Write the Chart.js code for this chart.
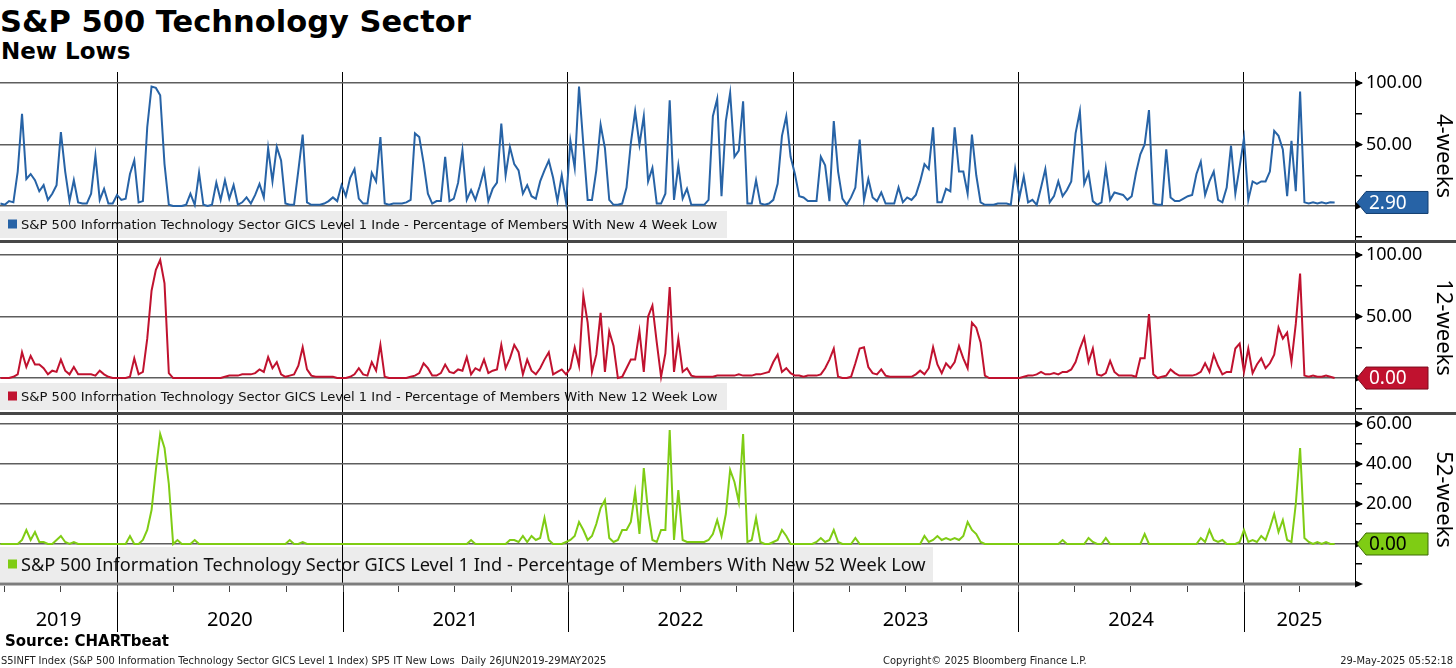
<!DOCTYPE html>
<html>
<head>
<meta charset="utf-8">
<script src="https://cdn.jsdelivr.net/npm/chart.js@4.4.1/dist/chart.umd.min.js"></script>
<style>
  html, body { margin: 0; padding: 0; background: #fff; }
  body { width: 1456px; height: 668px; position: relative; overflow: hidden; font-family: "DejaVu Sans", sans-serif; color: #000; }
  .abs { position: absolute; white-space: nowrap; }
  #title { left: 0; top: 7px; font-size: 30.5px; line-height: 30px; font-weight: bold; }
  #subtitle { left: 1px; top: 40px; font-size: 23px; line-height: 23px; font-weight: bold; }
  .sep { left: 0; width: 1456px; height: 3px; background: #474747; }
  #source { left: 5px; top: 634px; font-size: 15px; line-height: 15px; font-weight: bold; }
  .foot { top: 655px; font-family: "Liberation Sans Narrow", "DejaVu Sans Condensed", sans-serif; font-size: 11px; line-height: 11px; color: #222; }
  canvas { position: absolute; left: 0; }
</style>
</head>
<body>
<div id="title" class="abs">S&amp;P 500 Technology Sector</div>
<div id="subtitle" class="abs">New Lows</div>

<canvas id="chart4w" width="1456" height="168" style="top:72px"></canvas>
<div class="abs sep" style="top:240px"></div>
<canvas id="chart12w" width="1456" height="169" style="top:243px"></canvas>
<div class="abs sep" style="top:412px"></div>
<canvas id="chart52w" width="1456" height="253" style="top:415px"></canvas>

<div id="source" class="abs">Source: CHARTbeat</div>
<div class="abs foot" style="left:1px">S5INFT Index (S&amp;P 500 Information Technology Sector GICS Level 1 Index) SP5 IT New Lows&nbsp; Daily 26JUN2019-29MAY2025</div>
<div class="abs foot" style="left:883px">Copyright© 2025 Bloomberg Finance L.P.</div>
<div class="abs foot" style="right:3px">29-May-2025 05:52:18</div>

<script>
// weekly readings, first one on 26 Jun 2019
const startDay = Date.UTC(2019, 5, 26);
const stepDays = 7;

const years = [2019, 2020, 2021, 2022, 2023, 2024, 2025];

// % of members with new 4 week low
const newLow4w = [
  2, 1, 4, 3, 28, 75, 22, 26, 21, 12, 17, 5, 10, 17, 60, 28, 4, 21, 3, 2,
  2, 10, 41, 5, 14, 2, 2, 9, 5, 6, 26, 37, 3, 4, 64, 97, 96, 90, 34, 1,
  0, 0, 0, 1, 10, 1, 27, 1, 0, 1, 19, 5, 21, 6, 17, 1, 3, 7, 2, 9,
  18, 7, 47, 20, 48, 37, 2, 1, 1, 29, 58, 3, 1, 1, 1, 2, 4, 7, 4, 17,
  8, 23, 30, 6, 2, 2, 27, 20, 56, 2, 1, 2, 2, 2, 3, 5, 59, 56, 35, 10,
  2, 4, 4, 40, 4, 6, 19, 45, 5, 13, 5, 16, 29, 4, 14, 19, 67, 25, 48, 34,
  29, 10, 17, 8, 6, 20, 29, 37, 23, 4, 25, 3, 53, 31, 97, 50, 5, 5, 29, 66,
  47, 5, 1, 1, 2, 15, 51, 77, 50, 73, 20, 31, 2, 2, 10, 86, 5, 33, 6, 14,
  1, 1, 1, 1, 5, 73, 87, 8, 69, 92, 40, 45, 85, 2, 2, 21, 2, 1, 2, 5,
  18, 57, 73, 40, 26, 8, 7, 4, 4, 4, 40, 33, 4, 69, 28, 6, 1, 7, 15, 54,
  5, 22, 7, 4, 11, 2, 2, 2, 15, 3, 7, 5, 9, 20, 34, 30, 64, 3, 3, 14,
  12, 64, 28, 28, 10, 58, 25, 3, 1, 1, 1, 2, 2, 2, 1, 30, 7, 24, 3, 5,
  1, 15, 30, 3, 8, 20, 8, 13, 20, 59, 77, 18, 27, 4, 1, 3, 31, 5, 11, 10,
  9, 5, 8, 27, 42, 50, 78, 2, 1, 1, 46, 7, 4, 4, 6, 8, 9, 26, 36, 9,
  20, 28, 5, 3, 15, 49, 10, 32, 55, 5, 20, 18, 20, 20, 28, 61, 57, 46, 8, 53,
  12, 93, 3, 2, 3, 2, 3, 2, 3, 2.9
];

// % of members with new 12 week low
const newLow12w = [
  0, 0, 0, 1, 3, 21, 9, 18, 11, 11, 8, 3, 6, 5, 15, 6, 3, 9, 3, 3,
  3, 3, 2, 6, 3, 1, 0, 0, 0, 0, 1, 16, 3, 5, 32, 71, 88, 96, 77, 4,
  0, 0, 0, 0, 0, 0, 0, 0, 0, 0, 0, 0, 1, 2, 2, 2, 3, 3, 3, 4,
  7, 5, 17, 8, 13, 3, 1, 2, 3, 10, 25, 7, 2, 1, 1, 1, 1, 1, 0, 0,
  0, 1, 3, 8, 3, 2, 13, 6, 27, 1, 0, 0, 0, 0, 0, 1, 2, 4, 12, 8,
  2, 2, 4, 11, 5, 4, 7, 6, 17, 3, 8, 6, 15, 4, 6, 7, 27, 8, 16, 27,
  21, 3, 15, 6, 3, 8, 15, 21, 3, 5, 7, 3, 8, 25, 10, 67, 45, 5, 19, 53,
  5, 38, 26, 0, 1, 8, 15, 15, 38, 5, 50, 59, 29, 1, 20, 74, 5, 32, 5, 8,
  2, 1, 1, 1, 1, 1, 2, 2, 2, 2, 2, 3, 2, 2, 2, 3, 3, 4, 5, 13,
  19, 5, 8, 4, 2, 2, 1, 2, 2, 2, 3, 8, 15, 24, 1, 0, 0, 1, 12, 24,
  25, 9, 4, 3, 7, 2, 1, 1, 1, 1, 1, 1, 3, 6, 3, 8, 25, 11, 4, 12,
  8, 13, 26, 16, 8, 45, 41, 29, 2, 0, 0, 0, 0, 0, 0, 0, 0, 1, 2, 2,
  3, 5, 3, 3, 4, 3, 5, 5, 7, 13, 24, 33, 13, 24, 3, 2, 4, 14, 5, 2,
  2, 2, 2, 1, 16, 16, 52, 3, 0, 1, 2, 7, 4, 2, 2, 2, 2, 3, 5, 12,
  5, 19, 10, 3, 5, 5, 24, 28, 5, 24, 4, 11, 16, 8, 12, 19, 41, 32, 37, 13,
  44, 85, 2, 1, 2, 1, 1, 2, 1, 0
];

// % of members with new 52 week low
const newLow52w = [
  0, 0, 0, 0, 0, 2, 7, 2, 6, 1, 1, 0, 0, 2, 4, 1, 0, 1, 0, 0,
  0, 0, 0, 0, 0, 0, 0, 0, 0, 0, 4, 0, 0, 2, 7, 17, 37, 55, 48, 30,
  0, 2, 0, 0, 0, 2, 0, 0, 0, 0, 0, 0, 0, 0, 0, 0, 0, 0, 0, 0,
  0, 0, 0, 0, 0, 0, 0, 2, 0, 0, 1, 0, 0, 0, 0, 0, 0, 0, 0, 0,
  0, 0, 0, 0, 0, 0, 0, 0, 0, 0, 0, 0, 0, 0, 0, 0, 0, 0, 0, 0,
  0, 0, 0, 0, 0, 0, 0, 0, 0, 2, 0, 0, 0, 0, 0, 0, 0, 0, 2, 2,
  1, 4, 1, 4, 2, 3, 13, 2, 0, 0, 0, 1, 2, 4, 11, 7, 2, 4, 10, 18,
  22, 3, 1, 2, 7, 7, 11, 26, 5, 38, 16, 2, 1, 7, 7, 57, 2, 27, 2, 1,
  1, 1, 1, 1, 2, 5, 12, 4, 15, 37, 31, 21, 55, 1, 2, 13, 1, 0, 0, 1,
  2, 7, 4, 0, 0, 0, 0, 0, 0, 1, 3, 1, 2, 7, 1, 0, 0, 0, 3, 0,
  0, 0, 0, 0, 0, 0, 0, 0, 0, 0, 0, 0, 0, 0, 4, 1, 2, 4, 2, 3,
  2, 3, 2, 4, 11, 7, 5, 1, 0, 0, 0, 0, 0, 0, 0, 0, 0, 0, 0, 0,
  0, 0, 0, 0, 0, 0, 2, 0, 0, 0, 0, 0, 3, 1, 0, 0, 3, 0, 0, 0,
  0, 0, 0, 0, 0, 5, 0, 0, 0, 0, 0, 0, 0, 0, 0, 0, 0, 0, 3, 1,
  7, 2, 1, 2, 0, 0, 0, 1, 7, 1, 2, 1, 4, 2, 8, 15, 6, 12, 2, 1,
  20, 48, 3, 1, 0, 1, 0, 1, 0, 0
];

const ticks100 = [-25, 0, 25, 50, 75, 100];
const labels100 = [0, 50, 100];
const ticks60 = [-10, 0, 10, 20, 30, 40, 50, 60];
const labels60 = [0, 20, 40, 60];

const dayOf = (y, m) => (Date.UTC(y, m, 1) - startDay) / 864e5;
const yearStarts = years.slice(1).map(y => dayOf(y, 0));
const quarterStarts = [];
years.forEach(y => [0, 3, 6, 9].forEach(m => {
  const d = dayOf(y, m);
  if (d > 0 && d < 2190) quarterStarts.push(d);
}));
const xMin = -0.7;
const xMax = 2196;

function drawTag(ctx, x0, y, text, fill, edge, color) {
  ctx.beginPath();
  ctx.moveTo(x0, y);
  ctx.lineTo(x0 + 9, y - 11);
  ctx.lineTo(x0 + 71, y - 11);
  ctx.lineTo(x0 + 71, y + 11);
  ctx.lineTo(x0 + 9, y + 11);
  ctx.closePath();
  ctx.fillStyle = fill;
  ctx.fill();
  ctx.strokeStyle = edge;
  ctx.lineWidth = 1;
  ctx.stroke();
  ctx.fillStyle = color;
  ctx.font = '19px "Noto Sans"';
  ctx.textAlign = 'left';
  ctx.textBaseline = 'middle';
  ctx.fillText(text, x0 + 12, y + 1);
}

const decor = {
  id: 'decor',
  beforeDraw(chart, args, o) {
    const ctx = chart.ctx;
    const a = chart.chartArea;
    ctx.save();
    ctx.fillStyle = '#ececec';
    ctx.fillRect(0, a.bottom - o.boxH - o.boxGap, o.boxW, o.boxH);
    const cy = a.bottom - o.boxGap - o.boxH / 2;
    ctx.fillStyle = o.color;
    ctx.fillRect(8, cy - 5, 9, 9);
    ctx.fillStyle = '#111';
    ctx.font = o.legendFont;
    ctx.textBaseline = 'middle';
    ctx.fillText(o.legend, 21, cy + 1);
    ctx.restore();
  },
  afterDraw(chart, args, o) {
    const ctx = chart.ctx;
    const a = chart.chartArea;
    const ys = chart.scales.y;
    const xs = chart.scales.x;
    ctx.save();
    // arrow heads on labelled ticks
    ctx.fillStyle = '#000';
    o.labels.forEach(v => {
      const y = ys.getPixelForValue(v);
      ctx.beginPath();
      ctx.moveTo(a.right + 1, y - 3.5);
      ctx.lineTo(a.right + 8, y);
      ctx.lineTo(a.right + 1, y + 3.5);
      ctx.fill();
    });
    // side title
    ctx.translate(1443, (a.top + a.bottom) / 2);
    ctx.rotate(Math.PI / 2);
    ctx.font = '22px "Noto Sans"';
    ctx.textAlign = 'center';
    ctx.textBaseline = 'middle';
    ctx.fillText(o.side, 0, 0);
    ctx.restore();

    const last = o.values[o.values.length - 1];
    drawTag(ctx, a.right + 2, ys.getPixelForValue(last), last.toFixed(2), o.color, o.tagEdge, o.tagText);

    if (o.bottomAxis) {
      ctx.save();
      ctx.strokeStyle = '#000';
      ctx.lineWidth = 1;
      yearStarts.forEach(d => {
        const x = Math.round(xs.getPixelForValue(d)) + 0.5;
        ctx.beginPath();
        ctx.moveTo(x, a.bottom);
        ctx.lineTo(x, a.bottom + 48);
        ctx.stroke();
      });
      ctx.strokeStyle = '#444';
      quarterStarts.forEach(d => {
        const x = Math.round(xs.getPixelForValue(d)) + 0.5;
        ctx.beginPath();
        ctx.moveTo(x, a.bottom + 2);
        ctx.lineTo(x, a.bottom + 8);
        ctx.stroke();
      });
      ctx.strokeStyle = '#7d7d7d';
      ctx.lineWidth = 3;
      ctx.beginPath();
      ctx.moveTo(0, a.bottom);
      ctx.lineTo(a.right, a.bottom);
      ctx.stroke();
      ctx.fillStyle = '#000';
      ctx.beginPath();
      ctx.moveTo(a.right, a.bottom - 3.5);
      ctx.lineTo(a.right + 8, a.bottom);
      ctx.lineTo(a.right, a.bottom + 3.5);
      ctx.fill();
      const edges = [a.left].concat(yearStarts.map(d => xs.getPixelForValue(d)), [a.right]);
      ctx.font = '20px "Noto Sans"';
      ctx.textAlign = 'center';
      ctx.textBaseline = 'middle';
      years.forEach((y, i) => {
        ctx.fillText(String(y), (edges[i] + edges[i + 1]) / 2, a.bottom + 36);
      });
      ctx.restore();
    }
  }
};

function makePanel(id, values, o) {
  const canvas = document.getElementById(id);
  o.values = values;
  new Chart(canvas, {
    type: 'line',
    data: {
      datasets: [{
        data: values.map((v, i) => ({ x: i * stepDays, y: v })),
        borderColor: o.color,
        borderWidth: 2,
        pointRadius: 0,
        tension: 0,
      }],
    },
    options: {
      responsive: false,
      animation: false,
      layout: { padding: 0, autoPadding: false },
      plugins: { legend: { display: false }, tooltip: { enabled: false }, decor: o },
      scales: {
        x: {
          type: 'linear',
          min: xMin,
          max: xMax,
          afterBuildTicks: s => { s.ticks = yearStarts.map(v => ({ value: v })); },
          afterFit: s => {
            s.height = o.axisH;
            s.paddingLeft = 0; s.paddingRight = 0;
          },
          grid: { color: '#000', lineWidth: 1, drawTicks: false },
          border: { display: false },
          ticks: { display: false },
        },
        y: {
          position: 'right',
          min: o.min,
          max: o.max,
          afterBuildTicks: s => { s.ticks = o.ticks.map(v => ({ value: v })); },
          afterFit: s => {
            s.width = 101;
            s.paddingTop = 0; s.paddingBottom = 0;
          },
          grid: {
            color: c => (c.tick && o.labels.includes(c.tick.value)) ? '#5e5e5e' : 'rgba(0,0,0,0)',
            lineWidth: 1.5,
            tickLength: 7,
            tickColor: '#000',
          },
          border: { color: '#000', width: 1 },
          ticks: {
            autoSkip: false,
            padding: 4,
            color: '#000',
            font: { family: 'Noto Sans', size: 18 },
            callback: v => o.labels.includes(v) ? v.toFixed(2) : '',
          },
        },
      },
    },
    plugins: [decor],
  });
}

makePanel('chart4w', newLow4w, {
  color: '#2763a6', tagEdge: '#123e70', tagText: '#fff',
  min: -27.6, max: 108.9, ticks: ticks100, labels: labels100, axisH: 0,
  side: '4-weeks', boxW: 727, boxH: 27, boxGap: 2, legendFont: '13.1px "DejaVu Sans"',
  legend: 'S&P 500 Information Technology Sector GICS Level 1 Inde - Percentage of Members With New 4 Week Low',
});
makePanel('chart12w', newLow12w, {
  color: '#c0122f', tagEdge: '#7a0a1c', tagText: '#fff',
  min: -27.6, max: 109.8, ticks: ticks100, labels: labels100, axisH: 0,
  side: '12-weeks', boxW: 727, boxH: 27, boxGap: 2, legendFont: '13.1px "DejaVu Sans"',
  legend: 'S&P 500 Information Technology Sector GICS Level 1 Ind - Percentage of Members With New 12 Week Low',
});
makePanel('chart52w', newLow52w, {
  color: '#7fcc14', tagEdge: '#3f6a06', tagText: '#000',
  min: -20, max: 64.5, ticks: ticks60, labels: labels60, axisH: 84, bottomAxis: true,
  side: '52-weeks', boxW: 933, boxH: 35, boxGap: 2, legendFont: '18.2px "Noto Sans"',
  legend: 'S&P 500 Information Technology Sector GICS Level 1 Ind - Percentage of Members With New 52 Week Low',
});
</script>
</body>
</html>
